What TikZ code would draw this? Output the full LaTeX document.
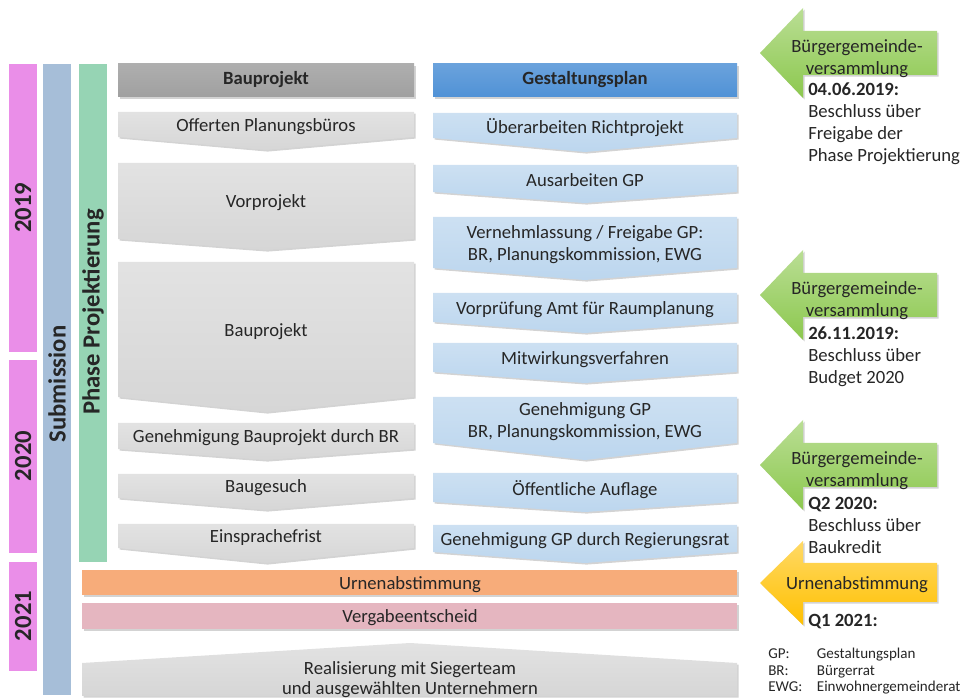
\documentclass[tikz,border=0pt]{standalone}
\usepackage{fontspec}
\setmainfont{Carlito}
\usetikzlibrary{shadows}

\definecolor{yearpink}{RGB}{234,142,232}
\definecolor{subblue}{RGB}{166,190,216}
\definecolor{phasegreen}{RGB}{150,212,180}
\definecolor{headgray}{RGB}{160,160,160}
\definecolor{headblue}{RGB}{80,146,214}
\definecolor{stepgray}{RGB}{214,214,214}
\definecolor{stepblue}{RGB}{188,214,238}
\definecolor{urneorange}{RGB}{247,172,122}
\definecolor{vergabepink}{RGB}{229,182,192}
\definecolor{arrowgreen}{RGB}{140,200,78}
\definecolor{arroworange}{RGB}{255,192,0}
\definecolor{txt}{RGB}{38,38,38}

\begin{document}
\begin{tikzpicture}[x=0.75pt, y=-0.75pt,
    font=\fontsize{14}{16.5}\selectfont,
    text=txt,
    shade/.style={drop shadow={opacity=0.35, shadow xshift=1.2pt, shadow yshift=-1.2pt}},
    bar/.style={fill=#1, draw=none},
    bartext/.style={rotate=90, font=\fontsize{18.5}{20}\selectfont\bfseries, text=black!85},
    header/.style={shade, top color=#1!85, bottom color=#1, draw=none},
    headtext/.style={font=\fontsize{14}{16}\selectfont\bfseries},
    graystep/.style={shade, top color=stepgray!70, bottom color=stepgray, draw=none},
    bluestep/.style={shade, top color=stepblue!75, bottom color=stepblue, draw=none},
    steptext/.style={align=center, inner sep=0pt, yshift=-1.5pt},
    wide/.style={shade, fill=#1, draw=none},
    callout/.style={shade, top color=#1!60, bottom color=#1, draw=none},
    note/.style={align=left, anchor=north west, inner sep=0pt},
    legend/.style={font=\fontsize{11.3}{12.3}\selectfont, anchor=north west, inner sep=0pt}
]
\useasboundingbox (0,0) rectangle (965,698);

% ===== Time / phase bars =====
\path[bar=yearpink] (9,64) rectangle (37,352);
\path[bar=yearpink] (9,360) rectangle (37,553);
\path[bar=yearpink] (9,562) rectangle (37,671);
\path[bar=subblue] (43,64) rectangle (71,695);
\path[bar=phasegreen] (79,64) rectangle (107,562);

\node[bartext] (y2019) at (23,208) {2019};
\node[bartext] (y2020) at (23,456) {2020};
\node[bartext] (y2021) at (23,616) {2021};
\node[bartext] (subm) at (57,384) {Submission};
\node[bartext] (phase) at (93,312) {Phase Projektierung};

% ===== Column headers =====
\path[header=headgray] (118,64) rectangle (414,97);
\path[header=headblue] (433,64) rectangle (737,97);
\node[headtext] (hbau) at (266,80) {Bauprojekt};
\node[headtext] (hgp) at (585,80) {Gestaltungsplan};

% ===== Bauprojekt steps =====
\foreach \nm/\ya/\yb/\yc/\txt in {
    offert/112/137/150/{Offerten Planungsbüros},
    vorpro/163/239/250/{Vorprojekt},
    baupro/262/397/412/{Bauprojekt},
    genbr/423/449/460/{Genehmigung Bauprojekt durch BR},
    baugs/474/498/510/{Baugesuch},
    einspr/524/548/563/{Einsprachefrist}}
{
    \path[graystep] (118,\ya) -- (414,\ya) -- (414,\yb) -- (266,\yc) -- (118,\yb) -- cycle;
    \node[steptext] (\nm) at (266,{(\ya+\yb)/2}) {\txt};
}

% ===== Gestaltungsplan steps =====
\foreach \nm/\ya/\yb/\yc/\txt in {
    richt/113/138/152/{Überarbeiten Richtprojekt},
    ausgp/165/192/203/{Ausarbeiten GP},
    vernehm/217/268/280/{Vernehmlassung / Freigabe GP:\\BR, Planungskommission, EWG},
    vorpr/293/322/333/{Vorprüfung Amt für Raumplanung},
    mitw/343/372/383/{Mitwirkungsverfahren},
    gengp/397/443/460/{Genehmigung GP\\BR, Planungskommission, EWG},
    auflage/473/502/512/{Öffentliche Auflage},
    genrr/525/552/563/{Genehmigung GP durch Regierungsrat}}
{
    \path[bluestep] (433,\ya) -- (737,\ya) -- (737,\yb) -- (585,\yc) -- (433,\yb) -- cycle;
    \node[steptext] (\nm) at (585,{(\ya+\yb)/2}) {\txt};
}

% ===== Common steps =====
\path[wide=urneorange] (82,570) rectangle (737,595);
\node[steptext] (urne) at (410,583) {Urnenabstimmung};
\path[wide=vergabepink] (82,603) rectangle (737,629);
\node[steptext] (vergabe) at (410,616) {Vergabeentscheid};
\path[graystep] (82,663) -- (410,643) -- (737,663) -- (737,696) -- (82,696) -- cycle;
\node[steptext, font=\fontsize{14}{15}\selectfont] (real) at (410,678) {Realisierung mit Siegerteam\\und ausgewählten Unternehmern};

% ===== Decisions (right) =====
\foreach \nm/\c in {bgv1/53, bgv2/295, bgv3/465}
{
    \path[callout=arrowgreen] (760,\c) -- (803,\c-45) -- (803,\c-22) -- (937,\c-22)
        -- (937,\c+22) -- (803,\c+22) -- (803,\c+45) -- cycle;
    \node[steptext] (\nm) at (857,\c+4) {Bürgergemeinde-\\versammlung};
}
\path[callout=arroworange] (760,583) -- (803,541) -- (803,563) -- (937,563)
    -- (937,602) -- (803,602) -- (803,625) -- cycle;
\node[steptext] (urnevote) at (857,583) {Urnenabstimmung};

\node[note] (dec1) at (808,82) {\textbf{04.06.2019:}\\Beschluss über\\Freigabe der\\Phase Projektierung};
\node[note] (dec2) at (808,326) {\textbf{26.11.2019:}\\Beschluss über\\Budget 2020};
\node[note] (dec3) at (808,497) {\textbf{Q2 2020:}\\Beschluss über\\Baukredit};
\node[note] (dec4) at (808,614) {\textbf{Q1 2021:}};

% ===== Legend =====
\node[legend] (leg) at (768,647) {%
    \begin{tabular}{@{}p{36.5pt}@{}l@{}}
    GP: & Gestaltungsplan\\
    BR: & Bürgerrat\\
    EWG: & Einwohnergemeinderat
    \end{tabular}};

\end{tikzpicture}
\end{document}
